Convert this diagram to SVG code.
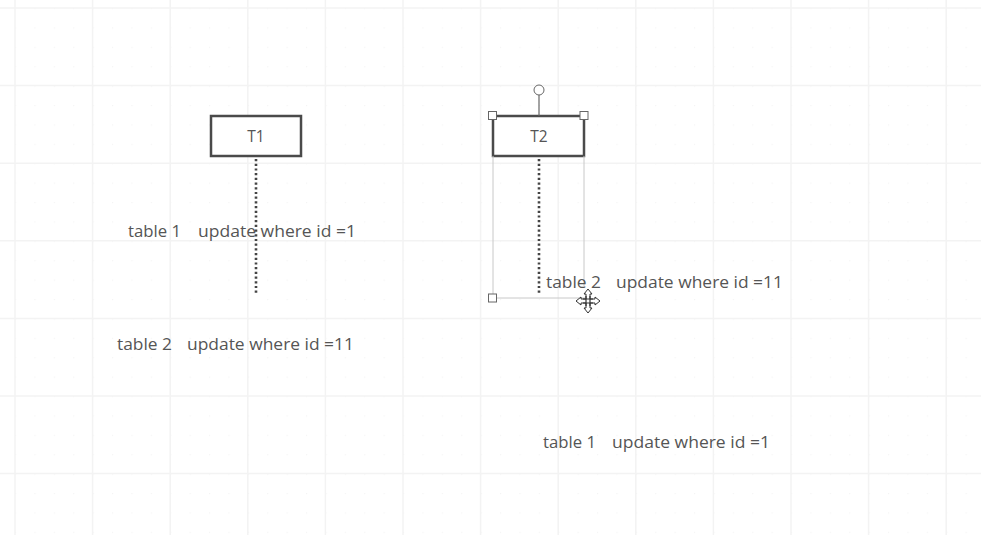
<svg xmlns="http://www.w3.org/2000/svg" width="981" height="535" viewBox="0 0 981 535">
<defs>
<style>
.grid{stroke:#f3f3f3;stroke-width:1.5}
.box{fill:#fff;stroke:#4a4a4a;stroke-width:2.5}
.lbl{font-family:"Open Sans","Noto Sans","Liberation Sans",sans-serif;font-size:16.5px;fill:#555;white-space:pre}
.nm{font-family:"Open Sans","Noto Sans","Liberation Sans",sans-serif;font-size:15.5px;fill:#555}
.dots{stroke:#444;stroke-width:2.6;stroke-dasharray:2.2 2.5;fill:none}
.sel{stroke:#c8c8c8;stroke-width:1;fill:none}
.handle{fill:#fff;stroke:#666;stroke-width:1}
</style>
<pattern id="minor" x="15" y="8" width="19.4" height="19.4" patternUnits="userSpaceOnUse">
<rect x="0" y="0" width="1.2" height="1.2" fill="#f4f4f4"/>
</pattern>
</defs>
<rect width="981" height="535" fill="#fff"/>
<rect width="981" height="535" fill="url(#minor)"/>
<g id="grid" class="grid">
<path d="M15 0V535M92.6 0V535M170.2 0V535M247.8 0V535M325.4 0V535M403 0V535M480.6 0V535M558.2 0V535M635.8 0V535M713.4 0V535M791 0V535M868.6 0V535M946.2 0V535"/>
<path d="M0 8H981M0 85.6H981M0 163.2H981M0 240.8H981M0 318.4H981M0 396H981M0 473.6H981"/>
</g>
<g id="connectors">
<line class="dots" x1="256" y1="159" x2="256" y2="295"/>
<line class="dots" x1="539" y1="159" x2="539" y2="295"/>
</g>
<g id="T1">
<rect class="box" x="211" y="116" width="90" height="40"/>
<text class="nm" x="256" y="142" text-anchor="middle">T1</text>
</g>
<g id="T2">
<rect class="box" x="493" y="116" width="91" height="40"/>
<text class="nm" x="539" y="142" text-anchor="middle">T2</text>
</g>
<g id="selection">
<path class="sel" d="M493 156V298H585M584 156V286"/>
<line x1="539" y1="95" x2="539" y2="116" stroke="#666" stroke-width="1.2"/>
<circle class="handle" cx="539" cy="90" r="5"/>
<rect class="handle" x="488.5" y="111.5" width="8" height="8"/>
<rect class="handle" x="580" y="111.5" width="8" height="8"/>
<rect class="handle" x="488.5" y="294" width="8" height="8"/>
</g>
<g id="labels">
<text class="lbl" y="237"><tspan x="128" textLength="53" lengthAdjust="spacingAndGlyphs">table 1</tspan><tspan x="198" textLength="158" lengthAdjust="spacingAndGlyphs">update where id =1</tspan></text>
<text class="lbl" y="350"><tspan x="117" textLength="55" lengthAdjust="spacingAndGlyphs">table 2</tspan><tspan x="187" textLength="167" lengthAdjust="spacingAndGlyphs">update where id =11</tspan></text>
<text class="lbl" y="288"><tspan x="546" textLength="55" lengthAdjust="spacingAndGlyphs">table 2</tspan><tspan x="616" textLength="167" lengthAdjust="spacingAndGlyphs">update where id =11</tspan></text>
<text class="lbl" y="448"><tspan x="543" textLength="53" lengthAdjust="spacingAndGlyphs">table 1</tspan><tspan x="612" textLength="158" lengthAdjust="spacingAndGlyphs">update where id =1</tspan></text>
</g>
<g id="cursor" transform="translate(588,301)">
<path d="M0 -12L-4 -7H-2V-2H-7V-4L-12 0L-7 4V2H-2V7H-4L0 12L4 7H2V2H7V4L12 0L7 -4V-2H2V-7H4Z" fill="#fff" stroke="#333" stroke-width="1"/>
<path d="M-5 -2H5M-5 2H5M-2 -5V5M2 -5V5" stroke="#333" stroke-width="1.2"/>
</g>
</svg>
